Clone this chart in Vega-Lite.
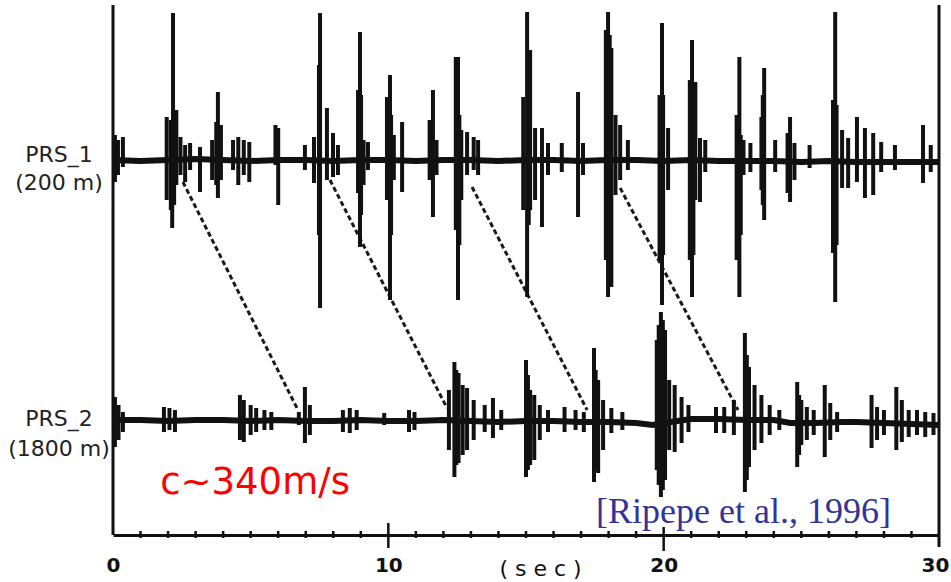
{
  "$schema": "https://vega.github.io/schema/vega-lite/v6.json",
  "width": 826,
  "height": 530,
  "autosize": {"type": "none"},
  "padding": {"left": 113, "top": 5, "right": 12, "bottom": 47},
  "background": "white",
  "config": {"view": {"stroke": null}},
  "datasets": {
    "base": [
      {"tr":"A","t":0,"y":375},{"tr":"A","t":1,"y":374},{"tr":"A","t":2,"y":375},{"tr":"A","t":3,"y":376},{"tr":"A","t":4,"y":375},{"tr":"A","t":5,"y":374},{"tr":"A","t":6,"y":375},{"tr":"A","t":7,"y":375},{"tr":"A","t":8,"y":374},{"tr":"A","t":9,"y":375},{"tr":"A","t":10,"y":375},{"tr":"A","t":11,"y":374},{"tr":"A","t":12,"y":375},{"tr":"A","t":13,"y":375},{"tr":"A","t":14,"y":374},{"tr":"A","t":15,"y":375},{"tr":"A","t":16,"y":375},{"tr":"A","t":17,"y":374},{"tr":"A","t":18,"y":375},{"tr":"A","t":19,"y":375},{"tr":"A","t":20,"y":374},{"tr":"A","t":21,"y":375},{"tr":"A","t":22,"y":374},{"tr":"A","t":23,"y":374},{"tr":"A","t":24,"y":374},{"tr":"A","t":25,"y":373},{"tr":"A","t":26,"y":374},{"tr":"A","t":27,"y":373},{"tr":"A","t":28,"y":373},{"tr":"A","t":29,"y":373},{"tr":"A","t":30,"y":373},
      {"tr":"B","t":0,"y":115},{"tr":"B","t":1,"y":115},{"tr":"B","t":2,"y":114},{"tr":"B","t":3,"y":115},{"tr":"B","t":4,"y":115},{"tr":"B","t":5,"y":114},{"tr":"B","t":6,"y":115},{"tr":"B","t":7,"y":114},{"tr":"B","t":8,"y":114},{"tr":"B","t":9,"y":115},{"tr":"B","t":10,"y":114},{"tr":"B","t":11,"y":114},{"tr":"B","t":12,"y":115},{"tr":"B","t":13,"y":114},{"tr":"B","t":14,"y":113},{"tr":"B","t":15,"y":114},{"tr":"B","t":16,"y":114},{"tr":"B","t":17,"y":113},{"tr":"B","t":18,"y":113},{"tr":"B","t":19,"y":112},{"tr":"B","t":19.6,"y":110},{"tr":"B","t":20.5,"y":114},{"tr":"B","t":21,"y":116},{"tr":"B","t":22,"y":116},{"tr":"B","t":23,"y":115},{"tr":"B","t":24,"y":115},{"tr":"B","t":24.6,"y":112},{"tr":"B","t":25.5,"y":112},{"tr":"B","t":26.5,"y":113},{"tr":"B","t":27,"y":113},{"tr":"B","t":28,"y":112},{"tr":"B","t":29,"y":111},{"tr":"B","t":30,"y":110}
    ],
    "spk": [
      {"t":0.07,"y":353,"y2":400},{"t":0.18,"y":360,"y2":395},{"t":0.36,"y":368,"y2":398},
      {"t":1.95,"y":335,"y2":418},{"t":2.10,"y":325,"y2":415},{"t":2.15,"y":307,"y2":395},{"t":2.18,"y":355,"y2":522},{"t":2.22,"y":330,"y2":420},{"t":2.30,"y":350,"y2":425},{"t":2.45,"y":360,"y2":398},{"t":2.62,"y":353,"y2":390},{"t":2.80,"y":365,"y2":392},{"t":3.16,"y":343,"y2":388},
      {"t":3.60,"y":355,"y2":395},{"t":3.75,"y":350,"y2":413},{"t":3.81,"y":337,"y2":443},{"t":3.92,"y":355,"y2":410},
      {"t":4.36,"y":365,"y2":395},{"t":4.55,"y":350,"y2":398},{"t":4.75,"y":360,"y2":395},{"t":4.95,"y":353,"y2":393},
      {"t":5.90,"y":370,"y2":410},{"t":6.00,"y":330,"y2":407},{"t":6.97,"y":365,"y2":390},{"t":7.30,"y":352,"y2":398},{"t":7.48,"y":300,"y2":470},{"t":7.52,"y":227,"y2":522},{"t":7.77,"y":355,"y2":427},{"t":7.99,"y":358,"y2":402},{"t":8.17,"y":360,"y2":390},
      {"t":8.90,"y":342,"y2":445},{"t":8.97,"y":288,"y2":503},{"t":9.01,"y":320,"y2":440},{"t":9.10,"y":350,"y2":395},{"t":9.26,"y":365,"y2":393},
      {"t":9.95,"y":335,"y2":438},{"t":10.06,"y":235,"y2":460},{"t":10.10,"y":300,"y2":420},{"t":10.20,"y":355,"y2":400},{"t":10.50,"y":343,"y2":413},
      {"t":11.50,"y":355,"y2":415},{"t":11.62,"y":318,"y2":445},{"t":11.75,"y":360,"y2":395},
      {"t":12.45,"y":305,"y2":478},{"t":12.53,"y":235,"y2":478},{"t":12.58,"y":290,"y2":420},{"t":12.65,"y":335,"y2":405},{"t":12.86,"y":360,"y2":403},{"t":13.10,"y":365,"y2":398},{"t":13.26,"y":360,"y2":395},
      {"t":14.90,"y":325,"y2":438},{"t":15.04,"y":238,"y2":523},{"t":15.10,"y":310,"y2":460},{"t":15.15,"y":325,"y2":485},{"t":15.33,"y":335,"y2":407},{"t":15.58,"y":308,"y2":407},{"t":15.80,"y":360,"y2":392},{"t":16.30,"y":363,"y2":392},
      {"t":16.89,"y":318,"y2":443},{"t":17.07,"y":360,"y2":392},
      {"t":17.90,"y":275,"y2":505},{"t":17.98,"y":238,"y2":523},{"t":18.04,"y":270,"y2":500},{"t":18.10,"y":248,"y2":487},{"t":18.25,"y":340,"y2":420},{"t":18.42,"y":355,"y2":410},{"t":18.70,"y":365,"y2":395},
      {"t":19.85,"y":275,"y2":440},{"t":19.94,"y":230,"y2":512},{"t":19.98,"y":280,"y2":440},{"t":20.16,"y":345,"y2":407},
      {"t":20.95,"y":275,"y2":455},{"t":21.03,"y":238,"y2":495},{"t":21.08,"y":280,"y2":450},{"t":21.15,"y":335,"y2":453},{"t":21.32,"y":333,"y2":397},{"t":21.51,"y":363,"y2":395},
      {"t":22.65,"y":275,"y2":420},{"t":22.75,"y":238,"y2":478},{"t":22.80,"y":300,"y2":400},{"t":22.90,"y":360,"y2":395},{"t":23.15,"y":363,"y2":392},
      {"t":23.55,"y":345,"y2":418},{"t":23.60,"y":330,"y2":440},{"t":23.65,"y":315,"y2":467},{"t":24.05,"y":363,"y2":395},
      {"t":24.50,"y":342,"y2":402},{"t":24.59,"y":333,"y2":418},{"t":24.75,"y":355,"y2":392},{"t":25.30,"y":367,"y2":390},
      {"t":26.15,"y":282,"y2":435},{"t":26.23,"y":233,"y2":523},{"t":26.28,"y":290,"y2":430},{"t":26.48,"y":347,"y2":405},{"t":26.70,"y":347,"y2":397},{"t":27.02,"y":353,"y2":418},{"t":27.31,"y":337,"y2":407},{"t":27.61,"y":340,"y2":402},{"t":27.90,"y":363,"y2":393},{"t":28.40,"y":365,"y2":390},{"t":29.42,"y":352,"y2":410},{"t":29.70,"y":363,"y2":390},
      {"t":0.07,"y":88,"y2":138},{"t":0.20,"y":95,"y2":130},{"t":0.36,"y":103,"y2":123},
      {"t":1.85,"y":103,"y2":128},{"t":2.05,"y":105,"y2":127},{"t":2.25,"y":103,"y2":125},
      {"t":4.61,"y":95,"y2":140},{"t":4.75,"y":93,"y2":135},{"t":5.00,"y":100,"y2":130},{"t":5.20,"y":103,"y2":127},{"t":5.50,"y":105,"y2":125},{"t":5.75,"y":105,"y2":123},
      {"t":6.75,"y":110,"y2":123},{"t":6.97,"y":92,"y2":148},{"t":7.15,"y":100,"y2":130},
      {"t":8.35,"y":103,"y2":125},{"t":8.60,"y":102,"y2":127},{"t":8.85,"y":105,"y2":125},{"t":9.85,"y":110,"y2":122},{"t":10.75,"y":103,"y2":125},{"t":10.95,"y":105,"y2":123},
      {"t":12.20,"y":85,"y2":145},{"t":12.40,"y":58,"y2":173},{"t":12.47,"y":70,"y2":165},{"t":12.55,"y":72,"y2":162},{"t":12.70,"y":80,"y2":150},{"t":12.86,"y":85,"y2":147},{"t":13.10,"y":95,"y2":135},{"t":13.50,"y":103,"y2":130},{"t":13.80,"y":97,"y2":137},{"t":14.10,"y":105,"y2":125},
      {"t":15.00,"y":58,"y2":175},{"t":15.07,"y":65,"y2":160},{"t":15.15,"y":70,"y2":145},{"t":15.30,"y":75,"y2":140},{"t":15.50,"y":95,"y2":130},{"t":15.80,"y":103,"y2":125},{"t":16.40,"y":103,"y2":128},{"t":16.80,"y":105,"y2":125},{"t":17.10,"y":103,"y2":123},
      {"t":17.47,"y":53,"y2":187},{"t":17.53,"y":65,"y2":165},{"t":17.62,"y":62,"y2":155},{"t":17.80,"y":85,"y2":135},{"t":18.10,"y":102,"y2":127},{"t":18.50,"y":105,"y2":123},
      {"t":19.75,"y":65,"y2":195},{"t":19.82,"y":50,"y2":210},{"t":19.90,"y":38,"y2":223},{"t":19.97,"y":45,"y2":215},{"t":20.05,"y":55,"y2":205},{"t":20.20,"y":85,"y2":155},{"t":20.40,"y":83,"y2":150},{"t":20.65,"y":92,"y2":138},{"t":20.90,"y":103,"y2":130},{"t":21.90,"y":102,"y2":128},{"t":22.20,"y":102,"y2":128},{"t":22.55,"y":100,"y2":135},
      {"t":22.95,"y":43,"y2":202},{"t":23.02,"y":55,"y2":180},{"t":23.10,"y":68,"y2":168},{"t":23.30,"y":85,"y2":150},{"t":23.55,"y":92,"y2":140},{"t":23.85,"y":100,"y2":130},{"t":24.20,"y":105,"y2":125},
      {"t":24.85,"y":68,"y2":153},{"t":24.92,"y":80,"y2":140},{"t":25.00,"y":90,"y2":135},{"t":25.20,"y":95,"y2":128},{"t":25.45,"y":100,"y2":125},
      {"t":25.85,"y":78,"y2":150},{"t":26.05,"y":95,"y2":132},{"t":26.30,"y":103,"y2":123},
      {"t":27.55,"y":87,"y2":140},{"t":27.75,"y":95,"y2":128},{"t":28.00,"y":100,"y2":125},
      {"t":28.45,"y":85,"y2":148},{"t":28.65,"y":93,"y2":135},{"t":28.90,"y":98,"y2":125},{"t":29.20,"y":100,"y2":125},{"t":29.50,"y":98,"y2":123},{"t":29.80,"y":100,"y2":122}
    ],
    "dash": [
      {"id":1,"t":2.54,"y":353},{"id":1,"t":6.68,"y":127},
      {"id":2,"t":7.88,"y":355},{"id":2,"t":12.13,"y":127},
      {"id":3,"t":13.04,"y":348},{"id":3,"t":17.22,"y":125},
      {"id":4,"t":18.42,"y":347},{"id":4,"t":22.70,"y":125}
    ],
    "frame": [
      {"t":0,"y":0,"y2":530},{"t":30,"y":-12,"y2":530}
    ],
    "ticks": [
      {"t":1,"y":-3,"y2":4},{"t":2,"y":-3,"y2":4},{"t":3,"y":-3,"y2":4},{"t":4,"y":-3,"y2":4},{"t":5,"y":-3,"y2":4},{"t":6,"y":-3,"y2":4},{"t":7,"y":-3,"y2":4},{"t":8,"y":-3,"y2":4},{"t":9,"y":-3,"y2":4},
      {"t":10,"y":-13,"y2":12},
      {"t":11,"y":-3,"y2":4},{"t":12,"y":-3,"y2":4},{"t":13,"y":-3,"y2":4},{"t":14,"y":-3,"y2":4},{"t":15,"y":-3,"y2":4},{"t":16,"y":-3,"y2":4},{"t":17,"y":-3,"y2":4},{"t":18,"y":-3,"y2":4},{"t":19,"y":-3,"y2":4},
      {"t":20,"y":-16,"y2":8},
      {"t":21,"y":-3,"y2":4},{"t":22,"y":-3,"y2":4},{"t":23,"y":-3,"y2":4},{"t":24,"y":-3,"y2":4},{"t":25,"y":-3,"y2":4},{"t":26,"y":-3,"y2":4},{"t":27,"y":-3,"y2":4},{"t":28,"y":-3,"y2":4},{"t":29,"y":-3,"y2":4}
    ],
    "labels": [
      {"t":-1.96,"y":380,"label":"PRS_1"},
      {"t":-1.96,"y":352,"label":"(200 m)"},
      {"t":-1.96,"y":116,"label":"PRS_2"},
      {"t":-1.96,"y":86,"label":"(1800 m)"}
    ]
  },
  "encoding": {
    "x": {
      "field": "t",
      "type": "quantitative",
      "scale": {"domain": [0, 30], "nice": false, "zero": false},
      "axis": {
        "values": [0, 10, 20, 30],
        "format": "d",
        "grid": false,
        "domain": true,
        "domainColor": "#111",
        "domainWidth": 3,
        "ticks": false,
        "tickSize": 0,
        "labelFont": "DejaVu Sans",
        "labelFontSize": 20,
        "labelFontWeight": "bold",
        "labelColor": "#111",
        "labelPadding": 20,
        "labelFlush": false,
        "labelOverlap": false,
        "labelBound": false,
        "labelOffset": {"condition": {"test": "datum.value === 30", "value": -4}, "value": 0},
        "title": "( s e c )",
        "titleFont": "DejaVu Sans",
        "titleFontSize": 22,
        "titleFontWeight": "normal",
        "titleColor": "#111",
        "titleX": 427,
        "titleY": 33,
        "titleAlign": "center",
        "titleBaseline": "middle"
      }
    },
    "y": {
      "field": "y",
      "type": "quantitative",
      "scale": {"domain": [0, 530], "nice": false, "zero": false},
      "axis": null
    }
  },
  "layer": [
    {
      "data": {"name": "frame"},
      "mark": {"type": "rule", "color": "#111", "strokeWidth": 3},
      "encoding": {"y2": {"field": "y2"}}
    },
    {
      "data": {"name": "ticks"},
      "mark": {"type": "rule", "color": "#111", "strokeWidth": 2.5},
      "encoding": {"y2": {"field": "y2"}}
    },
    {
      "data": {"name": "dash"},
      "mark": {"type": "line", "color": "#1a1a1a", "strokeWidth": 3, "strokeDash": [5, 3]},
      "encoding": {"detail": {"field": "id"}}
    },
    {
      "data": {"name": "base"},
      "mark": {"type": "line", "color": "#111", "strokeWidth": 6},
      "encoding": {"detail": {"field": "tr"}}
    },
    {
      "data": {"name": "spk"},
      "mark": {"type": "rule", "color": "#111", "strokeWidth": 4},
      "encoding": {"y2": {"field": "y2"}}
    },
    {
      "data": {"name": "labels"},
      "mark": {"type": "text", "font": "DejaVu Sans", "fontSize": 22, "color": "#222", "align": "center", "baseline": "middle"},
      "encoding": {"text": {"field": "label"}}
    },
    {
      "data": {"values": [{"t": 5.16, "y": 52, "label": "c~340m/s"}]},
      "mark": {"type": "text", "font": "DejaVu Sans", "fontSize": 37, "color": "#ff0000", "align": "center", "baseline": "middle"},
      "encoding": {"text": {"field": "label"}}
    },
    {
      "data": {"values": [{"t": 22.9, "y": 12, "label": "[Ripepe et al., 1996]"}]},
      "mark": {"type": "text", "font": "Liberation Serif", "fontSize": 36, "color": "#333399", "align": "center", "baseline": "alphabetic"},
      "encoding": {"text": {"field": "label"}}
    }
  ]
}
